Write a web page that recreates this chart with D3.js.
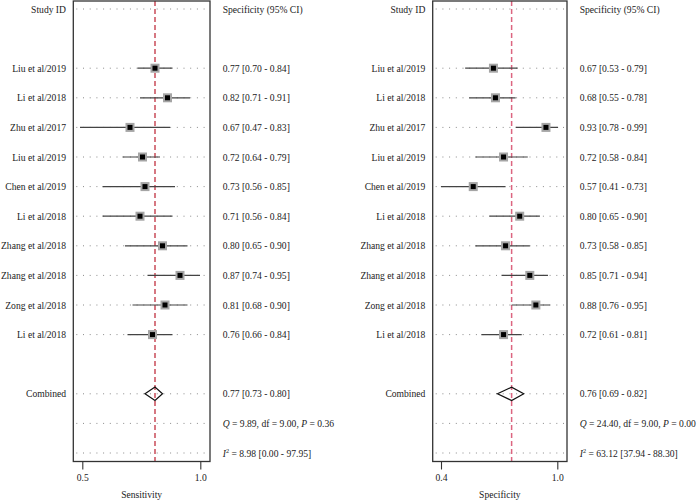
<!DOCTYPE html>
<html><head><meta charset="utf-8">
<script src="https://cdn.jsdelivr.net/npm/d3@7"></script>
<style>html,body{margin:0;padding:0;background:#fff;} svg text{font-family:"Liberation Serif","Times New Roman","DejaVu Serif",serif;}</style>
</head><body>
<svg id="chart" width="697" height="501" font-family="Liberation Serif, serif"></svg>
<script>
// ---- data ----
const studies = ["Liu et al/2019","Li et al/2018","Zhu et al/2017","Liu et al/2019","Chen et al/2019","Li et al/2018","Zhang et al/2018","Zhang et al/2018","Zong et al/2018","Li et al/2018"];
const sens   = [0.77,0.82,0.67,0.72,0.73,0.71,0.80,0.87,0.81,0.76];
const sensLo = [0.70,0.71,0.47,0.64,0.56,0.56,0.65,0.74,0.68,0.66];
const sensHi = [0.84,0.91,0.83,0.79,0.85,0.84,0.90,0.95,0.90,0.84];
const spec   = [0.67,0.68,0.93,0.72,0.57,0.80,0.73,0.85,0.88,0.72];
const specLo = [0.53,0.55,0.78,0.58,0.41,0.65,0.58,0.71,0.76,0.61];
const specHi = [0.79,0.78,0.99,0.84,0.73,0.90,0.85,0.94,0.95,0.81];
const sensCombined = [0.77,0.73,0.80];
const specCombined = [0.76,0.69,0.82];
const sensStats = {Q:"9.89", df:"9.00", P:"0.36", I2:"8.98", I2lo:"0.00", I2hi:"97.95"};
const specStats = {Q:"24.40", df:"9.00", P:"0.00", I2:"63.12", I2lo:"37.94", I2hi:"88.30"};
const sensTicks = [0.5, 1.0];
const specTicks = [0.4, 1.0];

const FONT = "Liberation Serif, Times New Roman, DejaVu Serif, serif";
const FS = 9.6;
const svg = d3.select("#chart");
const fmt = d3.format(".2f");
const row = d3.scaleLinear().domain([0,15]).range([9,453]);

function panel(cfg){
  const g = svg.append("g").attr("font-family",FONT);
  const {bx0,bx1,x,ax,vals,lo,hi,comb,stats,ticks,title,red,redW} = cfg;
  const boxTop = 1, boxBot = 461.5;
  const dotRows = [0,2,3,4,5,6,7,8,9,10,11,13,14,15];
  g.selectAll("line.dot").data(dotRows).enter().append("line")
    .attr("x1",bx0+3).attr("x2",bx1-2)
    .attr("y1",d=>row(d)).attr("y2",d=>row(d))
    .attr("stroke","#8a8a8a").attr("stroke-width",1)
    .attr("stroke-dasharray","1,5.7");
  g.append("line").attr("x1",x(comb[0])).attr("x2",x(comb[0]))
    .attr("y1",boxTop).attr("y2",boxBot)
    .attr("stroke",red).attr("stroke-width",redW).attr("stroke-dasharray","5,3");
  const idx = d3.range(vals.length);
  g.selectAll("line.ci").data(idx).enter().append("line")
    .attr("x1",i=>x(lo[i])).attr("x2",i=>x(hi[i]))
    .attr("y1",i=>row(i+2)).attr("y2",i=>row(i+2))
    .attr("stroke","#444").attr("stroke-width",1.2);
  g.selectAll("rect.m").data(idx).enter().append("rect")
    .attr("x",i=>x(vals[i])-4.5).attr("y",i=>row(i+2)-4.5)
    .attr("width",9).attr("height",9).attr("fill","#a5a5a5");
  g.selectAll("rect.c").data(idx).enter().append("rect")
    .attr("x",i=>x(vals[i])-2.5).attr("y",i=>row(i+2)-2.5)
    .attr("width",5).attr("height",5).attr("fill","#000");
  const yc = row(13);
  g.append("path")
    .attr("d",`M${x(comb[1])},${yc}L${x(comb[0])},${yc-6.7}L${x(comb[2])},${yc}L${x(comb[0])},${yc+6.7}Z`)
    .attr("fill","none").attr("stroke","#111").attr("stroke-width",1.2);
  g.append("rect").attr("x",bx0).attr("y",boxTop).attr("width",bx1-bx0).attr("height",boxBot-boxTop)
    .attr("fill","none").attr("stroke","#333").attr("stroke-width",1.3);
  const axis = d3.axisBottom(ax).tickValues(ticks).tickFormat(d3.format(".1f")).tickSize(8).tickPadding(5);
  const ag = g.append("g").attr("transform",`translate(0,${boxBot})`).call(axis);
  ag.attr("font-family",FONT).attr("font-size",FS);
  ag.select(".domain").remove();
  ag.selectAll("line").attr("stroke","#333").attr("stroke-width",1.1);
  ag.selectAll("text").attr("font-family",FONT).attr("font-size",FS).attr("fill","#222");
  g.append("text").attr("x",(bx0+bx1)/2).attr("y",498).attr("text-anchor","middle")
    .attr("font-size",FS).attr("fill","#222").text(title);
  const lx = bx0-7.3;
  const labels = [{r:0,t:"Study ID"}].concat(studies.map((s,i)=>({r:i+2,t:s}))).concat([{r:13,t:"Combined"}]);
  g.selectAll("text.lab").data(labels).enter().append("text")
    .attr("x",lx).attr("y",d=>row(d.r)+3.5).attr("text-anchor","end")
    .attr("font-size",FS).attr("fill","#222").text(d=>d.t);
  const rx = bx1+12.7;
  const rtexts = [{r:0,t:"Specificity (95% CI)"}]
    .concat(vals.map((v,i)=>({r:i+2,t:`${fmt(v)} [${fmt(lo[i])} - ${fmt(hi[i])}]`})))
    .concat([{r:13,t:`${fmt(comb[0])} [${fmt(comb[1])} - ${fmt(comb[2])}]`}]);
  g.selectAll("text.rt").data(rtexts).enter().append("text")
    .attr("x",rx).attr("y",d=>row(d.r)+3.5)
    .attr("font-size",FS).attr("fill","#222").text(d=>d.t);
  const q = g.append("text").attr("x",rx).attr("y",row(14)+3.5).attr("font-size",FS).attr("fill","#222");
  q.append("tspan").attr("font-style","italic").text("Q");
  q.append("tspan").text(` = ${stats.Q}, df = ${stats.df}, `);
  q.append("tspan").attr("font-style","italic").text("P");
  q.append("tspan").text(` = ${stats.P}`);
  const t = g.append("text").attr("x",rx).attr("y",row(15)+3.5).attr("font-size",FS).attr("fill","#222");
  t.append("tspan").attr("font-style","italic").text("I");
  t.append("tspan").attr("font-size",6.3).attr("dy",-4).text("2");
  t.append("tspan").attr("dy",4).text(` = ${stats.I2} [${stats.I2lo} - ${stats.I2hi}]`);
}

panel({
  bx0:73.3, bx1:210,
  x:d3.scaleLinear().domain([0.5,1.0]).range([87.5,212.5]),
  ax:d3.scaleLinear().domain([0.5,1.0]).range([82.3,200.3]),
  vals:sens, lo:sensLo, hi:sensHi, comb:sensCombined, stats:sensStats,
  ticks:sensTicks, title:"Sensitivity", red:"#c0303f", redW:1.3
});
panel({
  bx0:432.7, bx1:567,
  x:d3.scaleLinear().domain([0.4,1.0]).range([438.9,560.1]),
  ax:d3.scaleLinear().domain([0.4,1.0]).range([441,557.3]),
  vals:spec, lo:specLo, hi:specHi, comb:specCombined, stats:specStats,
  ticks:specTicks, title:"Specificity", red:"#dc6580", redW:1.5
});
</script>
</body></html>
